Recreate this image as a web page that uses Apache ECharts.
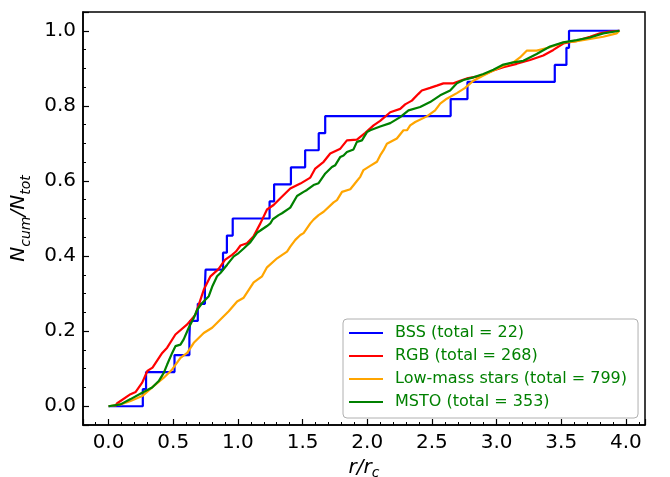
<!DOCTYPE html>
<html><head><meta charset="utf-8">
<script src="https://cdn.jsdelivr.net/npm/echarts@6/dist/echarts.min.js"></script>
<style>html,body{margin:0;padding:0;background:#fff}#c{width:670px;height:477px}</style>
</head><body><div id="c"></div>
<script>
// BSS: sorted radii of the 22 stars (cumulative step function), plus last radius of the sample
const bssRadii = [0.265,0.29,0.51,0.625,0.63,0.69,0.745,0.75,0.885,0.915,0.96,1.245,1.28,1.41,1.52,1.625,1.675,2.645,2.775,3.45,3.54,3.56];
const bssStart = 0.0;
const bssLast = 3.95;

const rgbR = [0.05,0.067,0.17,0.21,0.26,0.30,0.34,0.415,0.453,0.517,0.608,0.672,0.736,0.788,0.85,0.90,0.955,0.985,1.02,1.07,1.12,1.174,1.225,1.276,1.328,1.405,1.483,1.56,1.598,1.663,1.714,1.792,1.843,1.92,1.985,2.049,2.10,2.178,2.255,2.293,2.345,2.396,2.422,2.486,2.538,2.589,2.666,2.718,2.77,2.847,2.898,2.975,3.053,3.156,3.259,3.361,3.439,3.516,3.619,3.722,3.799,3.876,3.95];
const rgbF = [0.0,0.008,0.032,0.038,0.063,0.094,0.103,0.142,0.156,0.191,0.218,0.244,0.310,0.346,0.365,0.39,0.403,0.412,0.428,0.434,0.452,0.487,0.524,0.536,0.554,0.580,0.593,0.609,0.633,0.651,0.673,0.686,0.708,0.710,0.728,0.748,0.760,0.783,0.792,0.804,0.814,0.832,0.841,0.848,0.854,0.860,0.860,0.867,0.873,0.878,0.883,0.894,0.903,0.912,0.922,0.934,0.949,0.966,0.973,0.984,0.993,0.998,1.0];

const lowR = [0.0,0.093,0.17,0.26,0.337,0.427,0.492,0.556,0.608,0.659,0.736,0.801,0.865,0.929,0.994,1.045,1.122,1.187,1.225,1.303,1.38,1.405,1.444,1.483,1.508,1.56,1.585,1.624,1.663,1.676,1.74,1.766,1.805,1.869,1.92,1.946,1.971,2.023,2.075,2.10,2.126,2.152,2.164,2.229,2.28,2.307,2.332,2.371,2.384,2.461,2.525,2.564,2.615,2.693,2.757,2.821,2.898,2.975,3.053,3.13,3.181,3.233,3.31,3.413,3.516,3.619,3.722,3.825,3.928,3.95];
const lowF = [0.0,0.005,0.014,0.027,0.050,0.076,0.098,0.129,0.142,0.169,0.195,0.209,0.231,0.253,0.279,0.289,0.330,0.346,0.370,0.394,0.412,0.425,0.443,0.456,0.461,0.487,0.497,0.509,0.518,0.523,0.543,0.549,0.571,0.578,0.600,0.611,0.629,0.640,0.651,0.668,0.682,0.699,0.700,0.713,0.735,0.735,0.748,0.757,0.761,0.772,0.788,0.806,0.819,0.834,0.848,0.867,0.881,0.894,0.907,0.916,0.929,0.947,0.947,0.956,0.969,0.972,0.978,0.984,0.993,1.0];

const mstoR = [0.0,0.093,0.17,0.26,0.337,0.388,0.427,0.453,0.492,0.517,0.556,0.581,0.62,0.659,0.685,0.724,0.775,0.801,0.839,0.865,0.917,0.968,1.006,1.045,1.097,1.148,1.174,1.225,1.251,1.27,1.315,1.341,1.405,1.457,1.508,1.534,1.585,1.624,1.676,1.689,1.727,1.753,1.792,1.817,1.843,1.894,1.92,1.959,1.998,2.023,2.10,2.178,2.255,2.319,2.409,2.486,2.564,2.641,2.693,2.744,2.821,2.898,2.975,3.053,3.13,3.207,3.31,3.413,3.516,3.619,3.722,3.825,3.95];
const mstoF = [0.0,0.005,0.019,0.036,0.050,0.067,0.089,0.111,0.142,0.160,0.164,0.178,0.209,0.235,0.257,0.275,0.293,0.318,0.346,0.355,0.377,0.399,0.408,0.420,0.437,0.462,0.468,0.480,0.487,0.498,0.509,0.514,0.529,0.560,0.571,0.576,0.589,0.594,0.620,0.621,0.637,0.642,0.664,0.668,0.677,0.684,0.704,0.708,0.730,0.735,0.745,0.754,0.770,0.788,0.797,0.810,0.828,0.841,0.860,0.869,0.876,0.885,0.896,0.910,0.916,0.920,0.938,0.958,0.969,0.975,0.982,0.993,1.0];

const seriesNames = ['BSS (total = 22)','RGB (total = 268)','Low-mass stars (total = 799)','MSTO (total = 353)'];
const seriesColors = ['#0000ff','#ff0000','#ffa500','#008000'];
const xTicks = [0.0,0.5,1.0,1.5,2.0,2.5,3.0,3.5,4.0];

const FONT = 'DejaVu Sans';
const zip = (a,b) => a.map((v,i)=>[v,b[i]]);
const bssData = [[bssStart,0]].concat(bssRadii.map((r,i)=>[r,(i+1)/bssRadii.length])).concat([[bssLast,1]]);
const curves = [bssData, zip(rgbR,rgbF), zip(lowR,lowF), zip(mstoR,mstoF)];

const isMultiple = (v, step) => Math.abs(v/step - Math.round(v/step)) < 1e-6;

const chart = echarts.init(document.getElementById('c'), null, {renderer:'canvas'});
chart.setOption({
  animation: false,
  backgroundColor: '#fff',
  grid: {left:83, right:25, top:12, bottom:52, show:true, borderColor:'#000', borderWidth:1.5, backgroundColor:'transparent', containLabel:false, outerBoundsMode:'none'},
  xAxis: {
    type:'value', min:-0.1975, max:4.1475, splitNumber:8, minInterval:0.5, maxInterval:0.5,
    axisLine:{onZero:false, lineStyle:{color:'#000', width:1.5}},
    axisTick:{inside:true, length:6, lineStyle:{color:'#000', width:1.2}},
    minorTick:{show:true, splitNumber:5, length:3, lineStyle:{color:'#000', width:1}},
    splitLine:{show:false}, minorSplitLine:{show:false},
    axisLabel:{formatter: v => (isMultiple(v,0.5) && xTicks.some(t=>Math.abs(t-v)<1e-6)) ? v.toFixed(1) : '', fontSize:20, color:'#000', margin:8, fontFamily:FONT},
    name:'{i|r/r}{s|c}', nameLocation:'middle', nameGap:29,
    nameTextStyle:{color:'#000', rich:{
      i:{fontSize:20, fontStyle:'italic', fontFamily:FONT, color:'#000', lineHeight:22, verticalAlign:'top'},
      s:{fontSize:14, fontStyle:'italic', fontFamily:FONT, color:'#000', lineHeight:22, verticalAlign:'bottom'}
    }}
  },
  yAxis: {
    type:'value', min:-0.05, max:1.05, splitNumber:5, minInterval:0.2, maxInterval:0.2,
    axisLine:{onZero:false, lineStyle:{color:'#000', width:1.5}},
    axisTick:{inside:true, length:6, lineStyle:{color:'#000', width:1.2}},
    minorTick:{show:true, splitNumber:4, length:3, lineStyle:{color:'#000', width:1}},
    splitLine:{show:false}, minorSplitLine:{show:false},
    axisLabel:{formatter: v => (isMultiple(v,0.2) && v > -0.01 && v < 1.01) ? v.toFixed(1) : '', fontSize:20, color:'#000', margin:7, fontFamily:FONT},
    name:'{i|N}{s|cum}{i|/N}{s|tot}', nameLocation:'middle', nameGap:34, nameRotate:90,
    nameTextStyle:{color:'#000', rich:{
      i:{fontSize:20, fontStyle:'italic', fontFamily:FONT, color:'#000', lineHeight:24, verticalAlign:'top'},
      s:{fontSize:14, fontStyle:'italic', fontFamily:FONT, color:'#000', lineHeight:24, verticalAlign:'bottom'}
    }}
  },
  legend: {
    orient:'vertical', left:343, top:319,
    padding:[6,11,8,6], itemWidth:34, itemHeight:2, itemGap:7, icon:'rect',
    backgroundColor:'#fff', borderColor:'#b0b0b0', borderWidth:1, borderRadius:4,
    textStyle:{color:'#008000', fontSize:16, fontFamily:FONT, lineHeight:16, padding:[0,0,0,7]},
    data: seriesNames
  },
  series: curves.map((d,i)=>({
    name: seriesNames[i], type:'line', data:d, symbol:'none', showSymbol:false,
    step: i===0 ? 'end' : false,
    lineStyle:{color:seriesColors[i], width:2.2}, itemStyle:{color:seriesColors[i]},
    emphasis:{disabled:true}, z: 2+i
  }))
});
</script></body></html>
